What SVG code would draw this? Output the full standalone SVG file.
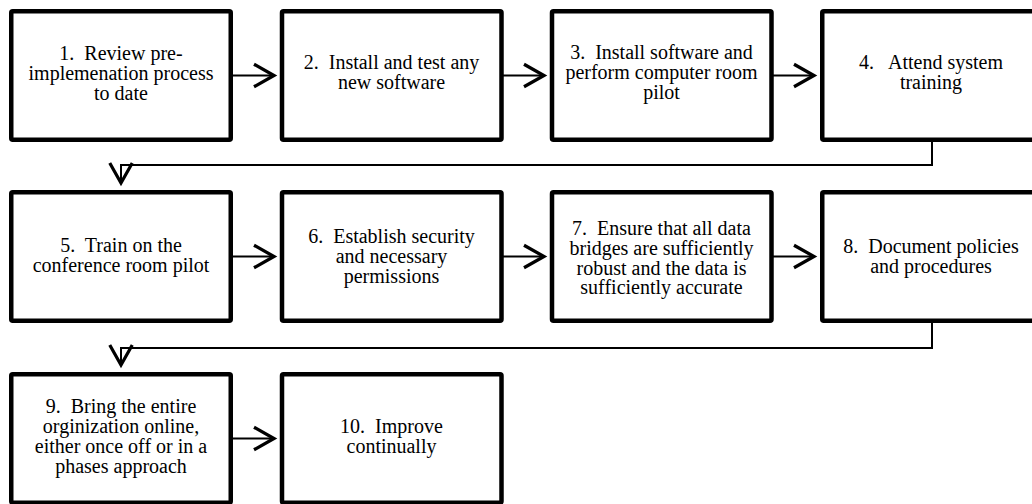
<svg xmlns="http://www.w3.org/2000/svg" xmlns:xlink="http://www.w3.org/1999/xlink" width="1032" height="504" viewBox="0 0 1032 504">
<defs>
<rect id="box" x="0" y="0" width="219.5" height="128.5" rx="1.5" fill="#fff" stroke="#000" stroke-width="4.5"/>
<marker id="ah" markerUnits="userSpaceOnUse" markerWidth="30" markerHeight="30" viewBox="-20 -12 24 24" refX="0" refY="0" orient="auto">
<path d="M-16,-9 L0,0 L-16,9" fill="none" stroke="#000" stroke-width="2.6" stroke-linejoin="miter"/>
</marker>
</defs>
<rect width="1032" height="504" fill="#fff"/>
<g id="connectors" fill="none" stroke="#000" stroke-width="2">
<line x1="233" y1="75.5" x2="274" y2="75.5" marker-end="url(#ah)"/>
<line x1="503" y1="75.5" x2="544" y2="75.5" marker-end="url(#ah)"/>
<line x1="773" y1="75.5" x2="814" y2="75.5" marker-end="url(#ah)"/>
<polyline points="932,142 932,165 121,165 121,183" marker-end="url(#ah)"/>
<line x1="233" y1="256.5" x2="274" y2="256.5" marker-end="url(#ah)"/>
<line x1="503" y1="256.5" x2="544" y2="256.5" marker-end="url(#ah)"/>
<line x1="773" y1="256.5" x2="814" y2="256.5" marker-end="url(#ah)"/>
<polyline points="932,323 932,348 121,348 121,365" marker-end="url(#ah)"/>
<line x1="233" y1="438.5" x2="274" y2="438.5" marker-end="url(#ah)"/>
</g>
<g id="n1">
<use href="#box" xlink:href="#box" x="11.25" y="11.25"/>
<text font-family="Liberation Serif" font-size="20" text-anchor="middle" x="121" y="60" xml:space="preserve">1.  Review pre-</text>
<text font-family="Liberation Serif" font-size="20" text-anchor="middle" x="121" y="80">implemenation process</text>
<text font-family="Liberation Serif" font-size="20" text-anchor="middle" x="121" y="100">to date</text>
</g>
<g id="n2">
<use href="#box" xlink:href="#box" x="282" y="11.25"/>
<text font-family="Liberation Serif" font-size="20" text-anchor="middle" x="391.5" y="69" xml:space="preserve">2.  Install and test any</text>
<text font-family="Liberation Serif" font-size="20" text-anchor="middle" x="391.5" y="89">new software</text>
</g>
<g id="n3">
<use href="#box" xlink:href="#box" x="552" y="11.25"/>
<text font-family="Liberation Serif" font-size="20" text-anchor="middle" x="661.5" y="59" xml:space="preserve">3.  Install software and</text>
<text font-family="Liberation Serif" font-size="20" text-anchor="middle" x="661.5" y="79">perform computer room</text>
<text font-family="Liberation Serif" font-size="20" text-anchor="middle" x="661.5" y="99">pilot</text>
</g>
<g id="n4">
<use href="#box" xlink:href="#box" x="822.25" y="11.25"/>
<text font-family="Liberation Serif" font-size="20" text-anchor="middle" x="931" y="69" xml:space="preserve">4.   Attend system</text>
<text font-family="Liberation Serif" font-size="20" text-anchor="middle" x="931" y="89">training</text>
</g>
<g id="n5">
<use href="#box" xlink:href="#box" x="11.25" y="192.25"/>
<text font-family="Liberation Serif" font-size="20" text-anchor="middle" x="121" y="252" xml:space="preserve">5.  Train on the</text>
<text font-family="Liberation Serif" font-size="20" text-anchor="middle" x="121" y="272">conference room pilot</text>
</g>
<g id="n6">
<use href="#box" xlink:href="#box" x="282" y="192.25"/>
<text font-family="Liberation Serif" font-size="20" text-anchor="middle" x="391.5" y="243" xml:space="preserve">6.  Establish security</text>
<text font-family="Liberation Serif" font-size="20" text-anchor="middle" x="391.5" y="263">and necessary</text>
<text font-family="Liberation Serif" font-size="20" text-anchor="middle" x="391.5" y="283">permissions</text>
</g>
<g id="n7">
<use href="#box" xlink:href="#box" x="552" y="192.25"/>
<text font-family="Liberation Serif" font-size="20" text-anchor="middle" x="661.5" y="235" xml:space="preserve">7.  Ensure that all data</text>
<text font-family="Liberation Serif" font-size="20" text-anchor="middle" x="661.5" y="255">bridges are sufficiently</text>
<text font-family="Liberation Serif" font-size="20" text-anchor="middle" x="661.5" y="274.5">robust and the data is</text>
<text font-family="Liberation Serif" font-size="20" text-anchor="middle" x="661.5" y="294">sufficiently accurate</text>
</g>
<g id="n8">
<use href="#box" xlink:href="#box" x="822.25" y="192.25"/>
<text font-family="Liberation Serif" font-size="20" text-anchor="middle" x="931" y="253" xml:space="preserve">8.  Document policies</text>
<text font-family="Liberation Serif" font-size="20" text-anchor="middle" x="931" y="273">and procedures</text>
</g>
<g id="n9">
<use href="#box" xlink:href="#box" x="11.25" y="374.25"/>
<text font-family="Liberation Serif" font-size="20" text-anchor="middle" x="121" y="413" xml:space="preserve">9.  Bring the entire</text>
<text font-family="Liberation Serif" font-size="20" text-anchor="middle" x="121" y="433">orginization online,</text>
<text font-family="Liberation Serif" font-size="20" text-anchor="middle" x="121" y="453">either once off or in a</text>
<text font-family="Liberation Serif" font-size="20" text-anchor="middle" x="121" y="473">phases approach</text>
</g>
<g id="n10">
<use href="#box" xlink:href="#box" x="282" y="374.25"/>
<text font-family="Liberation Serif" font-size="20" text-anchor="middle" x="391.5" y="433" xml:space="preserve">10.  Improve</text>
<text font-family="Liberation Serif" font-size="20" text-anchor="middle" x="391.5" y="453">continually</text>
</g>
</svg>
